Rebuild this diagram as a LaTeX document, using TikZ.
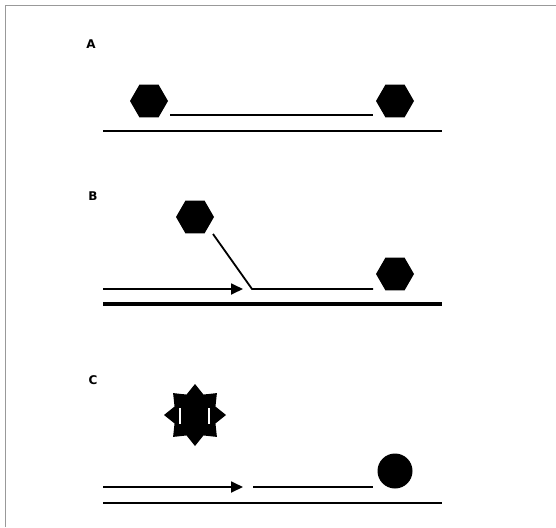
\documentclass[tikz,border=0pt]{standalone}
\usepackage{fontspec}
\setmainfont{DejaVu Sans}
\usetikzlibrary{shapes.geometric,arrows.meta}
\tikzset{
  hexa/.style={regular polygon, regular polygon sides=6, fill=black, inner sep=0pt, minimum size=38pt},
  ball/.style={circle, fill=black, inner sep=0pt, minimum size=35pt},
  burst/.style={star, star points=8, star point ratio=1.4, fill=black, inner sep=0pt, minimum size=62pt},
  strand/.style={line width=1.8pt},
  thick strand/.style={line width=4.5pt},
  lbl/.style={font=\bfseries\fontsize{12}{12}\selectfont, inner sep=0pt},
  frame/.style={draw=gray!80, line width=1.3pt},
  tip/.style={-{Triangle[length=12pt,width=11pt]}}
}
\begin{document}
\begin{tikzpicture}[x=1pt,y=-1pt]
\useasboundingbox (0,0) rectangle (556,527);
\draw[frame] (5.5,527) -- (5.5,5.5) -- (556,5.5);

% Panel A
\node[lbl] (la) at (91,44) {A};
\node[hexa] (ha1) at (149,101) {};
\node[hexa] (ha2) at (395,101) {};
\coordinate (a1) at (170,115);
\coordinate (a2) at (373,115);
\draw[strand] (a1) -- (a2);
\coordinate (a3) at (103,131);
\coordinate (a4) at (442,131);
\draw[strand] (a3) -- (a4);

% Panel B
\node[lbl] (lb) at (93,196) {B};
\node[hexa] (hb1) at (195,217) {};
\node[hexa] (hb2) at (395,274) {};
\coordinate (b0) at (213,234);
\coordinate (b1) at (252,289);
\coordinate (b2) at (373,289);
\draw[strand] (b0) -- (b1) -- (b2);
\coordinate (b3) at (103,289);
\coordinate (b4) at (243,289);
\draw[strand,tip] (b3) -- (b4);
\coordinate (b5) at (103,304);
\coordinate (b6) at (442,304);
\draw[thick strand] (b5) -- (b6);

% Panel C
\node[lbl] (lc) at (93,380) {C};
\node[burst] (sc) at (195,415) {};
\draw[white, line width=1.6pt] (180,408) -- (180,424);
\draw[white, line width=1.6pt] (209,408) -- (209,424);
\node[ball] (bc) at (395,471) {};
\coordinate (c1) at (103,487);
\coordinate (c2) at (243,487);
\draw[strand,tip] (c1) -- (c2);
\coordinate (c3) at (253,487);
\coordinate (c4) at (373,487);
\draw[strand] (c3) -- (c4);
\coordinate (c5) at (103,503);
\coordinate (c6) at (442,503);
\draw[strand] (c5) -- (c6);
\end{tikzpicture}
\end{document}
